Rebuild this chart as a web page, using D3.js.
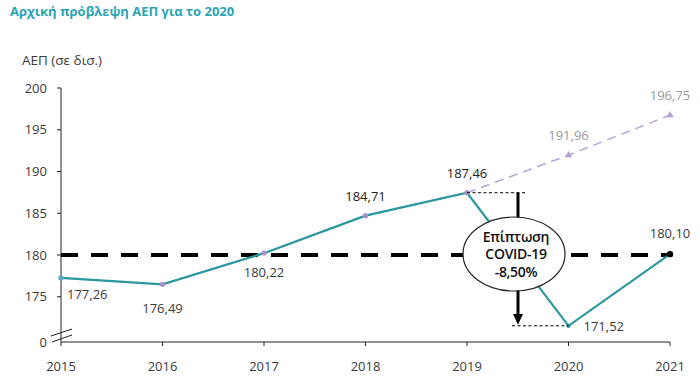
<!DOCTYPE html>
<html><head><meta charset="utf-8">
<script src="https://cdn.jsdelivr.net/npm/d3@7"></script>
<style>body{margin:0;background:#fff}svg{display:block}text{font-family:"Open Sans",sans-serif}</style>
</head><body><svg id="c" width="700" height="392"></svg>
<script>
const years = [2015, 2016, 2017, 2018, 2019, 2020, 2021];
const actual = [177.26, 176.49, 180.22, 184.71, 187.46, 171.52, 180.10];
const forecastYears = [2015, 2016, 2017, 2018, 2019, 2020, 2021];
const forecast = [177.26, 176.49, 180.22, 184.71, 187.46, 191.96, 196.75];
const yTicks = [170, 175, 180, 185, 190, 195, 200];
const yTickLabels = ["0", "175", "180", "185", "190", "195", "200"];
const refValue = 180;
const impactText = ["Επίπτωση", "COVID-19", "-8,50%"];
const title = "Αρχική πρόβλεψη ΑΕΠ για το 2020";
const yTitle = "ΑΕΠ (σε δισ.)";
const fmt = v => v.toFixed(2).replace(".", ",");

const svg = d3.select("#c");
const x = d3.scalePoint().domain(years).range([61, 670]);
const y = d3.scaleLinear().domain([170, 200]).range([338.5, 88]);
const axisY = 342;
const teal = "#2a989c", lav = "#b9a7d6", txt = "#3a3a3a";

svg.append("text").attr("x", 10).attr("y", 16).attr("fill", "#2ba3b2")
  .attr("font-family", "Liberation Sans, Arial, sans-serif").attr("font-weight", "bold").attr("font-size", 13).text(title);
svg.append("text").attr("x", 22).attr("y", 65).attr("fill", txt).attr("font-size", 13.5).text(yTitle);

// y axis
svg.append("line").attr("x1", 61).attr("x2", 61).attr("y1", y(200)).attr("y2", axisY).attr("stroke", "#222").attr("stroke-width", 1);
yTicks.forEach((t, i) => {
  const yy = t === 170 ? axisY : y(t);
  if (t !== 170) svg.append("line").attr("x1", 57).attr("x2", 61).attr("y1", yy).attr("y2", yy).attr("stroke", "#222");
  svg.append("text").attr("x", 47).attr("y", yy).attr("dy", "0.35em").attr("text-anchor", "end")
    .attr("fill", txt).attr("font-size", 13).text(yTickLabels[i]);
});
// break marks
svg.append("line").attr("x1", 51).attr("y1", 336).attr("x2", 72).attr("y2", 329).attr("stroke", "#222");
svg.append("line").attr("x1", 52).attr("y1", 342).attr("x2", 72).attr("y2", 335).attr("stroke", "#222");

// x axis
svg.append("line").attr("x1", 61).attr("x2", 670).attr("y1", axisY).attr("y2", axisY).attr("stroke", "#222");
years.forEach(yr => {
  svg.append("line").attr("x1", x(yr)).attr("x2", x(yr)).attr("y1", axisY).attr("y2", axisY + 4).attr("stroke", "#222");
  svg.append("text").attr("x", x(yr)).attr("y", 366).attr("dy", "0.35em").attr("text-anchor", "middle")
    .attr("fill", txt).attr("font-size", 13).text(yr);
});

// forecast dashed line
const fLine = d3.line().x((d, i) => x(forecastYears[i])).y(d => y(d));
svg.append("path").attr("d", fLine(forecast)).attr("fill", "none").attr("stroke", lav)
  .attr("stroke-width", 1.6).attr("stroke-dasharray", "9,6");

// reference dashed line at 180
svg.append("line").attr("x1", 61).attr("x2", x(2021)).attr("y1", y(refValue)).attr("y2", y(refValue))
  .attr("stroke", "#000").attr("stroke-width", 4).attr("stroke-dasharray", "17,13");

// actual line
const aLine = d3.line().x((d, i) => x(years[i])).y(d => y(d));
svg.append("path").attr("d", aLine(actual)).attr("fill", "none").attr("stroke", teal).attr("stroke-width", 2.2);

// markers
const tri = d3.symbol().type(d3.symbolTriangle).size(22);
forecast.forEach((v, i) => {
  if (i < 5) {
    svg.append("circle").attr("cx", x(forecastYears[i])).attr("cy", y(v)).attr("r", 2.6).attr("fill", i === 0 ? "#5aa7c0" : "#a892c9");
  } else {
    svg.append("path").attr("d", tri).attr("transform", `translate(${x(forecastYears[i])},${y(v)})`).attr("fill", "#b39fd2");
  }
});
svg.append("circle").attr("cx", x(2020)).attr("cy", y(actual[5])).attr("r", 2.2).attr("fill", teal);
svg.append("circle").attr("cx", x(2021)).attr("cy", y(actual[6])).attr("r", 3.2).attr("fill", "#000");

// value labels
const labelPos = [
  {dx: 6, dy: 17, anchor: "start", col: txt},
  {dx: 0, dy: 24, anchor: "middle", col: txt},
  {dx: 0, dy: 19, anchor: "middle", col: txt},
  {dx: 0, dy: -19, anchor: "middle", col: "#222"},
  {dx: 0, dy: -19, anchor: "middle", col: "#222"},
  {dx: 15, dy: 1, anchor: "start", col: txt},
  {dx: 0, dy: -21, anchor: "middle", col: txt}
];
actual.forEach((v, i) => {
  const p = labelPos[i];
  svg.append("text").attr("x", x(years[i]) + p.dx).attr("y", y(v) + p.dy).attr("dy", "0.35em")
    .attr("text-anchor", p.anchor).attr("fill", p.col).attr("font-size", 13).text(fmt(v));
});
[5, 6].forEach(i => {
  svg.append("text").attr("x", x(forecastYears[i])).attr("y", y(forecast[i]) - 20).attr("dy", "0.35em")
    .attr("text-anchor", "middle").attr("fill", "#9a9a9a").attr("font-size", 13).text(fmt(forecast[i]));
});

// annotation
const ax = 518, ecx = 514, ecy = 254;
svg.append("line").attr("x1", x(2019)).attr("x2", 526).attr("y1", y(actual[4])).attr("y2", y(actual[4]))
  .attr("stroke", "#000").attr("stroke-width", 1).attr("stroke-dasharray", "3,2.5");
svg.append("line").attr("x1", 512).attr("x2", x(2020)).attr("y1", y(actual[5])).attr("y2", y(actual[5]))
  .attr("stroke", "#000").attr("stroke-width", 1).attr("stroke-dasharray", "3,2.5");
svg.append("line").attr("x1", ax).attr("x2", ax).attr("y1", y(actual[4])).attr("y2", 218).attr("stroke", "#000").attr("stroke-width", 3);
svg.append("line").attr("x1", ax).attr("x2", ax).attr("y1", 290).attr("y2", 316).attr("stroke", "#000").attr("stroke-width", 3);
svg.append("path").attr("d", `M${ax - 5},${314}L${ax + 5},${314}L${ax},${y(actual[5]) - 1}Z`).attr("fill", "#000");
svg.append("ellipse").attr("cx", ecx).attr("cy", ecy).attr("rx", 51).attr("ry", 37)
  .attr("fill", "#fff").attr("stroke", "#222").attr("stroke-width", 1.2);
impactText.forEach((t, i) => {
  svg.append("text").attr("x", ecx + 2).attr("y", 237 + i * 17.5).attr("dy", "0.35em").attr("text-anchor", "middle")
    .attr("fill", "#111").attr("font-size", 14).attr("font-weight", 600).attr("letter-spacing", -0.3).text(t);
});
</script></body></html>
